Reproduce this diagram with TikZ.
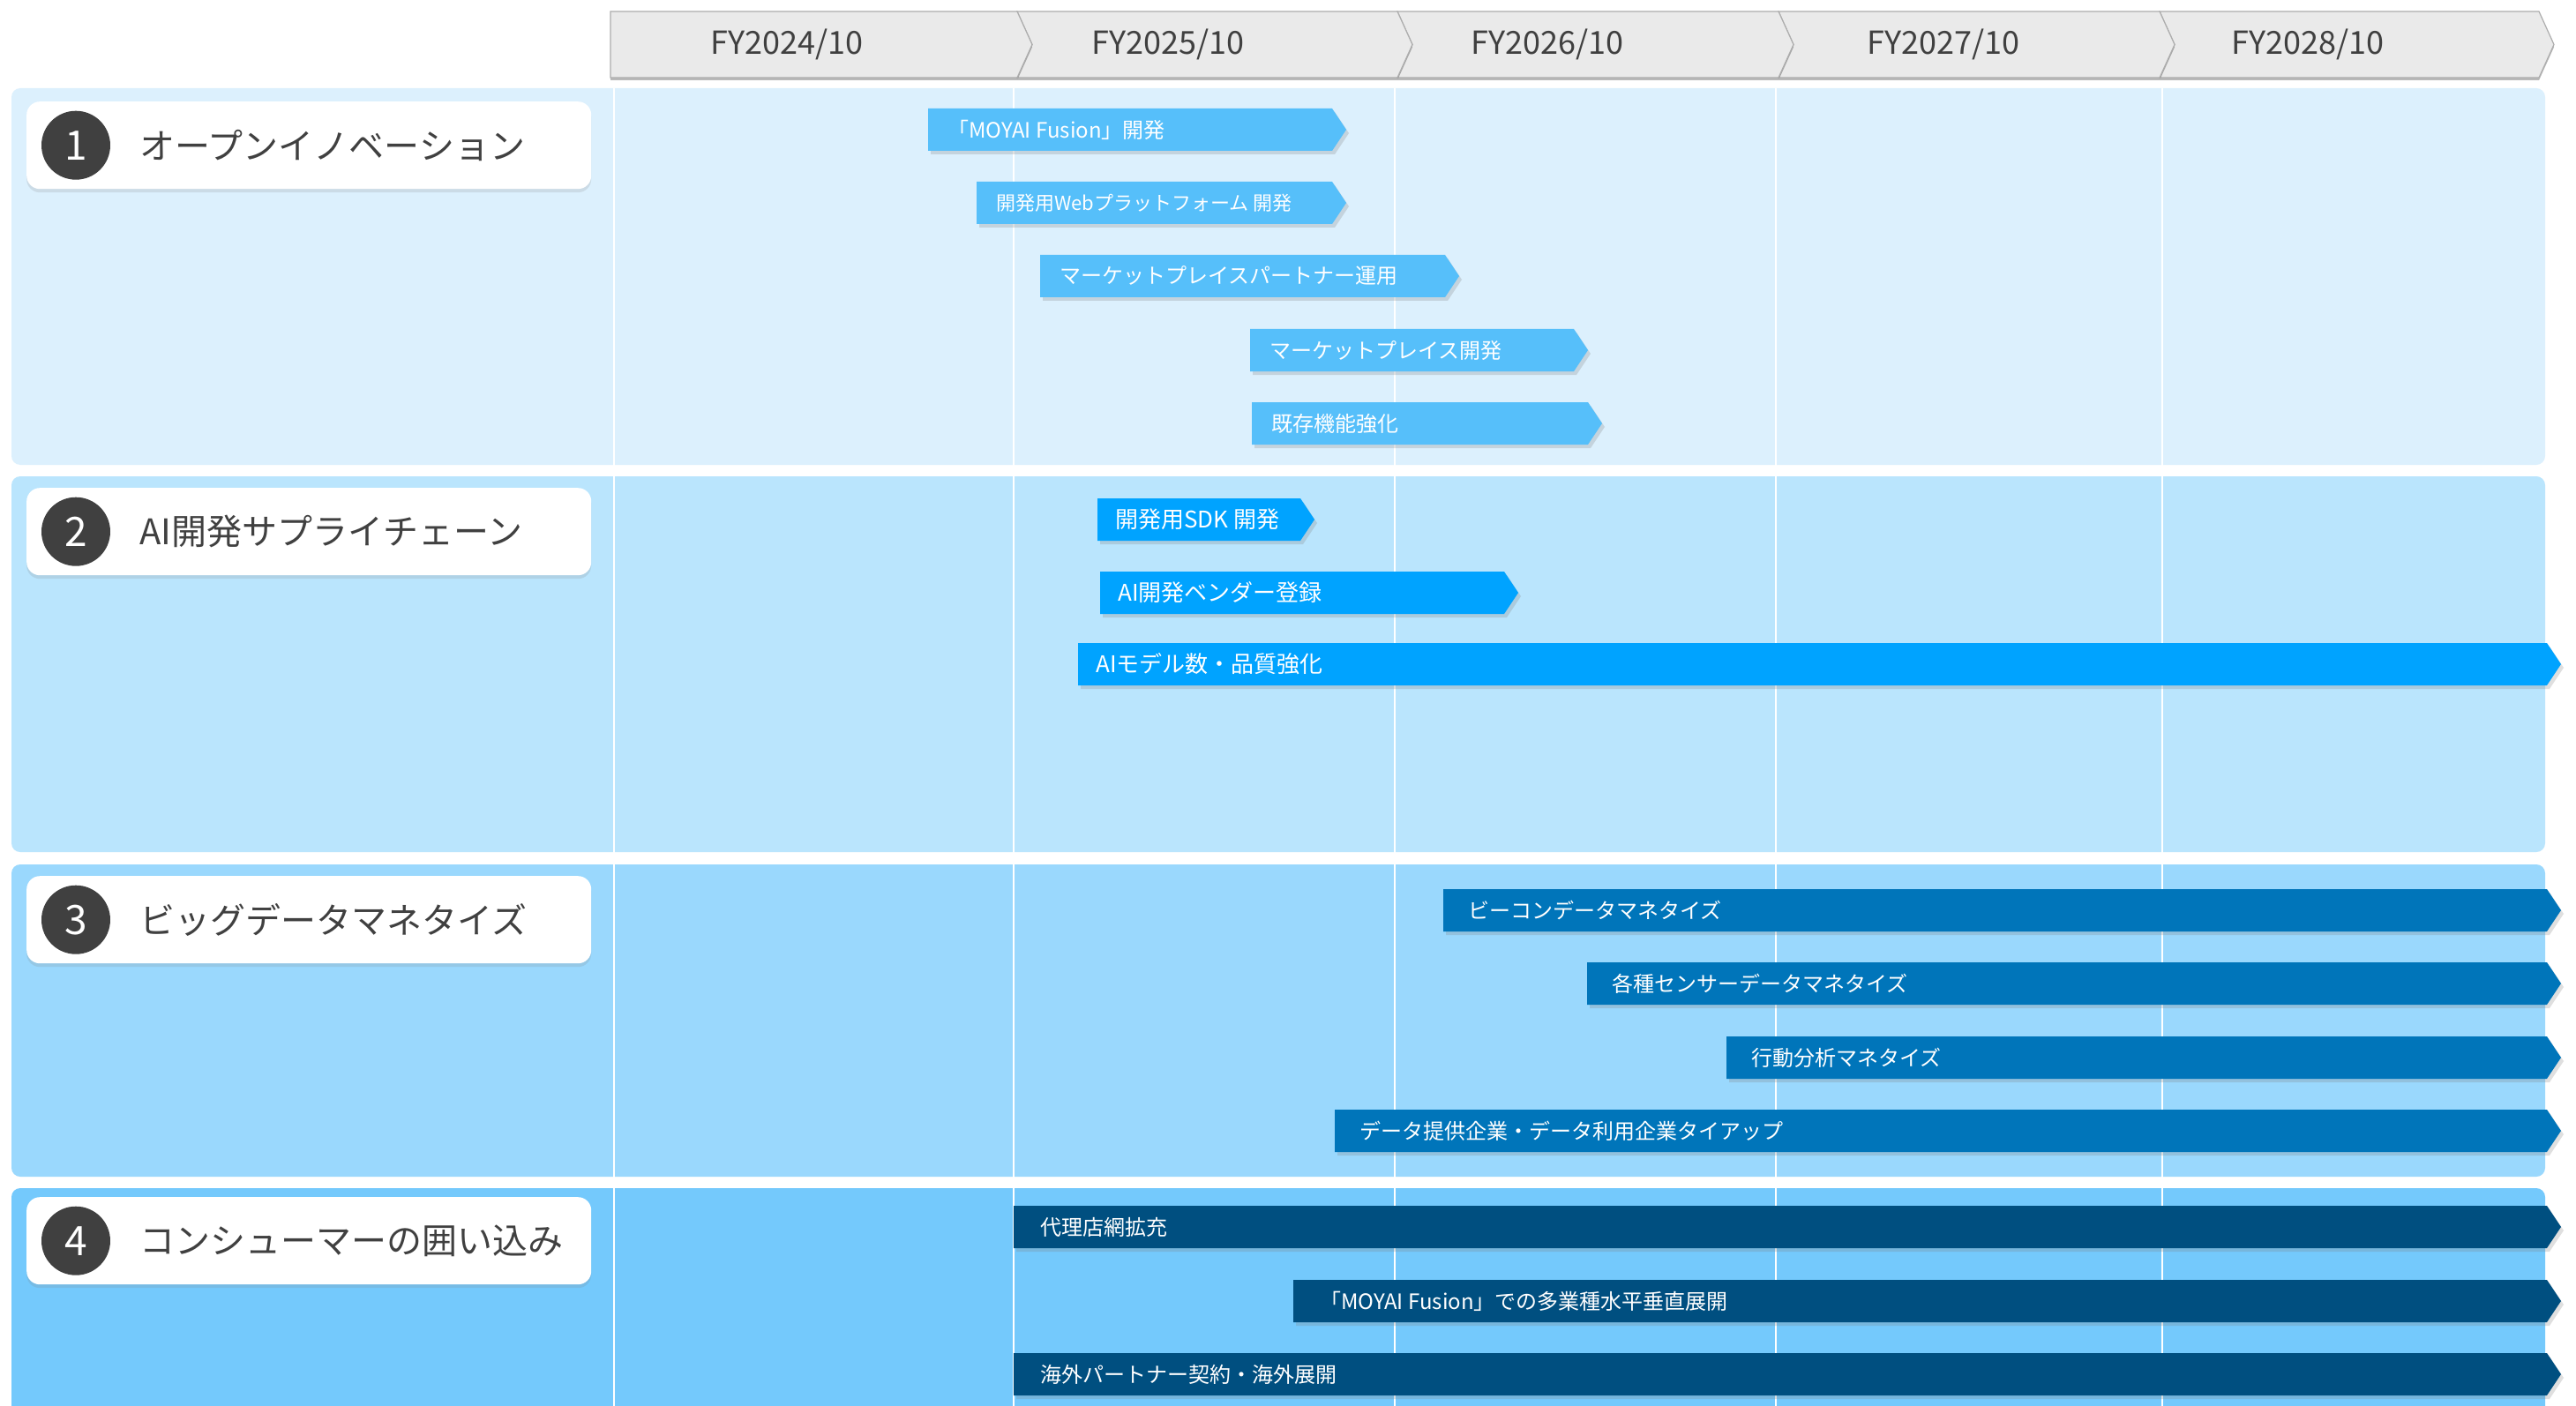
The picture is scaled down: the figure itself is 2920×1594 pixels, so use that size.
\documentclass[tikz,border=0pt]{standalone}
\usepackage{fontspec}
\setmainfont{Noto Sans CJK JP}
\usetikzlibrary{shadows}
\definecolor{panela}{HTML}{DCF0FD}
\definecolor{panelb}{HTML}{BAE5FD}
\definecolor{panelc}{HTML}{9AD8FD}
\definecolor{paneld}{HTML}{74C9FC}
\definecolor{bara}{HTML}{56BFFA}
\definecolor{barb}{HTML}{00A3FF}
\definecolor{barc}{HTML}{0075BA}
\definecolor{bard}{HTML}{004F80}
\definecolor{headfill}{HTML}{EAEAEA}
\definecolor{headline}{HTML}{ADADAD}
\definecolor{darktext}{HTML}{404040}

\begin{document}
\begin{tikzpicture}[x=1pt, y=-1pt,
    panel/.style = {rounded corners=10pt},
    card/.style = {fill=white, rounded corners=15pt, minimum width=640pt, minimum height=99pt,
        anchor=north west, inner sep=0pt,
        drop shadow={opacity=0.18, shadow xshift=0pt, shadow yshift=-4pt}},
    numdot/.style = {circle, fill=darktext, minimum size=78pt, inner sep=0pt, text=white,
        font=\fontsize{46}{50}\selectfont},
    cardtext/.style = {anchor=west, text=darktext, inner sep=0pt, font=\fontsize{40}{44}\selectfont},
    bartext/.style = {anchor=west, text=white, inner sep=0pt, font=\fontsize{24}{28}\selectfont},
    barshade/.style = {drop shadow={opacity=0.25, shadow xshift=3pt, shadow yshift=-4pt}},
    headseg/.style = {fill=headfill, draw=headline, line width=1.2pt,
        drop shadow={opacity=0.55, shadow xshift=0pt, shadow yshift=-3pt}},
    yeartext/.style = {text=darktext, inner sep=0pt, font=\fontsize{36}{40}\selectfont}
]
    \clip (0,0) rectangle (2920,1594);
    \useasboundingbox (0,0) rectangle (2920,1594);
    \fill[white] (0,0) rectangle (2920,1594);

    % Panels
    \fill[panela, panel] (13,100) rectangle (2885,527);
    \fill[panelb, panel] (13,540) rectangle (2885,966);
    \fill[panelc, panel] (13,980) rectangle (2885,1334);
    \fill[paneld, panel] (13,1347) rectangle (2885,1650);

    % Year lines
    \foreach \gx in {696,1149,1581,2013,2451}
        \draw[white, line width=1.5pt] (\gx,100) -- (\gx,1594);

    % Header
    \foreach \xa/\xb/\nd/\tx/\txt [count=\i] in {2448/2878/17/2616/{FY2028/10},
            2016/2448/17/2203/{FY2027/10}, 1584/2016/17/1754/{FY2026/10},
            1153/1584/17/1324/{FY2025/10}, 692/1153/0/892/{FY2024/10}} {
        \path[headseg] (\xa,13) -- (\xb,13) -- (\xb+17,50.5) -- (\xb,88) -- (\xa,88)
            -- (\xa+\nd,50.5) -- cycle;
        \node[yeartext] (fy\i) at (\tx,50.5) {\txt};
    }

    % Theme cards
    \foreach \t/\lab [count=\i] in {115/オープンイノベーション, 553/AI開発サプライチェーン,
            993/ビッグデータマネタイズ, 1357/コンシューマーの囲い込み} {
        \node[card] (c\i) at (30,\t) {};
        \node[numdot] (n\i) at ([xshift=56pt]c\i.west) {\i};
        \node[cardtext] (l\i) at ([xshift=128pt]c\i.west) {\lab};
    }

    % Bars of theme 1
    \foreach \yc/\xa/\xb/\txt [count=\i] in {147/1052/1510/{「MOYAI Fusion」開発},
            230/1107/1510/{\fontsize{22}{26}\selectfont 開発用Webプラットフォーム 開発},
            313/1179/1638/マーケットプレイスパートナー運用,
            397/1417/1784/マーケットプレイス開発,
            480/1419/1800/既存機能強化} {
        \fill[bara, barshade] (\xa,\yc-24) -- (\xb,\yc-24) -- (\xb+16,\yc) -- (\xb,\yc+24)
            -- (\xa,\yc+24) -- cycle;
        \node[bartext] (a\i) at (\xa+22,\yc) {\txt};
    }

    % Bars of theme 2
    \foreach \yc/\xa/\xb/\txt [count=\i] in {589/1244/1474/開発用SDK 開発,
            672/1247/1705/AI開発ベンダー登録,
            753/1222/2887/AIモデル数・品質強化} {
        \fill[barb, barshade] (\xa,\yc-24) -- (\xb,\yc-24) -- (\xb+16,\yc) -- (\xb,\yc+24)
            -- (\xa,\yc+24) -- cycle;
        \node[bartext, font=\fontsize{26}{30}\selectfont] (b\i) at (\xa+20,\yc) {\txt};
    }

    % Bars of theme 3
    \foreach \yc/\xa/\xb/\txt [count=\i] in {1032/1636/2887/ビーコンデータマネタイズ,
            1115/1799/2887/各種センサーデータマネタイズ,
            1199/1957/2887/行動分析マネタイズ,
            1282/1513/2887/データ提供企業・データ利用企業タイアップ} {
        \fill[barc, barshade] (\xa,\yc-24) -- (\xb,\yc-24) -- (\xb+16,\yc) -- (\xb,\yc+24)
            -- (\xa,\yc+24) -- cycle;
        \node[bartext] (d\i) at (\xa+28,\yc) {\txt};
    }

    % Bars of theme 4
    \foreach \yc/\xa/\xb/\txt [count=\i] in {1391/1149/2887/代理店網拡充,
            1475/1466/2887/{「MOYAI Fusion」での多業種水平垂直展開},
            1558/1149/2887/海外パートナー契約・海外展開} {
        \fill[bard, barshade] (\xa,\yc-24) -- (\xb,\yc-24) -- (\xb+16,\yc) -- (\xb,\yc+24)
            -- (\xa,\yc+24) -- cycle;
        \node[bartext] (e\i) at (\xa+30,\yc) {\txt};
    }
\end{tikzpicture}
\end{document}
